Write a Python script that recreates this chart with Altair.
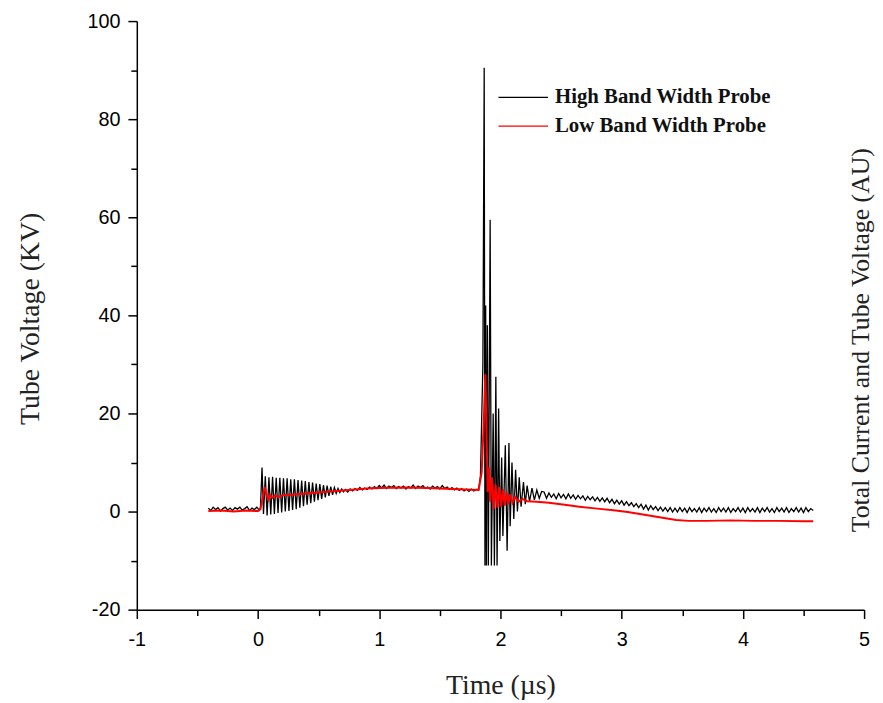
import altair as alt
import pandas as pd

# ---------------- data, [time µs, value kV] ----------------
high_pretrigger = [
    [-0.41, 0.7], [-0.39, 0.2], [-0.37, 0.9], [-0.35, 0.4], [-0.33, 0.8], [-0.31, 0.1],
    [-0.29, 0.6], [-0.27, 0.9], [-0.25, 0.3], [-0.23, 0.7], [-0.21, 0.2], [-0.19, 0.8],
    [-0.17, 0.5], [-0.15, 0.9], [-0.13, 0.3], [-0.11, 0.6], [-0.09, 1.0], [-0.07, 0.2],
    [-0.05, 0.7], [-0.03, 0.4], [-0.01, 0.9], [0.01, 0.3], [0.02, 0.8],
]
high_ringing = [
    [0.033, 9.0], [0.045, -0.5], [0.06, 7.2], [0.075, -0.8], [0.09, 7.0], [0.105, -0.6],
    [0.12, 7.1], [0.135, -0.5], [0.15, 6.9], [0.165, -0.3], [0.18, 6.9], [0.195, -0.2],
    [0.21, 6.8], [0.225, 0.0], [0.24, 6.8], [0.255, 0.1], [0.27, 6.6], [0.285, 0.3],
    [0.30, 6.6], [0.315, 0.5], [0.33, 6.4], [0.345, 0.8], [0.36, 6.3], [0.375, 1.1],
    [0.39, 6.2], [0.405, 1.4], [0.42, 6.0], [0.435, 1.7], [0.45, 5.9], [0.465, 2.0],
    [0.48, 5.7], [0.495, 2.3], [0.51, 5.6], [0.525, 2.6], [0.54, 5.4], [0.555, 2.9],
    [0.57, 5.3], [0.585, 3.2], [0.60, 5.1], [0.615, 3.4], [0.63, 4.9], [0.645, 3.7],
    [0.66, 4.7], [0.675, 3.9], [0.69, 4.6], [0.705, 4.0], [0.72, 4.5],
]
high_plateau = [
    [0.74, 4.0], [0.76, 4.6], [0.78, 4.2], [0.80, 4.7], [0.82, 4.3], [0.84, 4.9],
    [0.86, 4.4], [0.88, 4.8], [0.90, 4.5], [0.92, 5.0], [0.94, 4.6], [0.96, 5.1],
    [0.98, 4.7], [1.00, 5.3], [1.02, 4.8], [1.04, 5.4], [1.06, 4.7], [1.08, 5.2],
    [1.10, 4.9], [1.12, 5.3], [1.14, 4.7], [1.16, 5.1], [1.18, 4.8], [1.20, 5.2],
    [1.22, 4.6], [1.24, 5.1], [1.26, 4.8], [1.28, 5.4], [1.30, 4.7], [1.32, 5.2],
    [1.34, 4.9], [1.36, 5.3], [1.38, 4.7], [1.40, 5.0], [1.42, 4.6], [1.44, 5.2],
    [1.46, 4.8], [1.48, 5.1], [1.50, 4.6], [1.52, 5.3], [1.54, 4.7], [1.56, 5.0],
    [1.58, 4.5], [1.60, 4.9], [1.62, 4.4], [1.64, 4.8], [1.66, 4.3], [1.68, 4.7],
    [1.70, 4.2], [1.72, 4.6], [1.74, 4.1], [1.76, 4.6], [1.78, 4.2], [1.80, 4.5],
]
high_spike = [
    [1.82, 4.5], [1.835, 7.3], [1.855, 30.0], [1.866, 90.5], [1.872, -11.0], [1.878, 42.0],
    [1.884, -11.0], [1.892, 38.0], [1.90, -11.0], [1.915, 59.5], [1.925, -11.0], [1.94, 20.0],
    [1.95, -11.0], [1.962, 27.5], [1.972, -11.0], [1.985, 21.0], [1.995, -6.0], [2.01, 11.0],
    [2.02, -5.0], [2.04, 13.5], [2.055, -8.0], [2.07, 14.0], [2.08, -3.0], [2.095, 10.0],
    [2.11, -1.5], [2.125, 8.5], [2.14, 0.0], [2.155, 7.0], [2.17, 1.0], [2.19, 6.0],
    [2.205, 1.5], [2.22, 5.3], [2.24, 2.0], [2.26, 4.8], [2.28, 2.4], [2.30, 4.4],
    [2.32, 2.7], [2.34, 4.1],
]
high_tail = [
    [2.36, 4.0], [2.38, 2.7], [2.40, 3.8], [2.42, 2.9], [2.44, 3.6], [2.46, 2.6],
    [2.48, 3.7], [2.50, 2.8], [2.52, 3.5], [2.54, 2.6], [2.56, 3.6], [2.58, 2.7],
    [2.60, 3.4], [2.62, 2.5], [2.64, 3.3], [2.66, 2.6], [2.68, 3.2], [2.70, 2.3],
    [2.72, 3.1], [2.74, 2.4], [2.76, 3.0], [2.78, 2.2], [2.80, 2.9], [2.82, 2.1],
    [2.84, 2.8], [2.86, 2.0], [2.88, 2.7], [2.90, 1.8], [2.92, 2.5], [2.94, 1.6],
    [2.96, 2.3], [2.98, 1.5], [3.00, 2.2], [3.02, 1.3], [3.04, 2.0], [3.06, 1.2],
    [3.08, 1.8], [3.10, 1.0], [3.12, 1.6], [3.14, 0.8], [3.16, 1.5], [3.18, 0.5],
    [3.20, 1.3], [3.22, 0.3], [3.24, 1.2], [3.26, 0.4], [3.28, 1.0], [3.30, 0.2],
    [3.32, 0.9], [3.34, 0.1], [3.36, 0.8], [3.38, 0.0], [3.40, 0.8], [3.42, -0.1],
    [3.44, 0.7], [3.46, -0.1], [3.48, 0.8], [3.50, 0.0], [3.52, 0.7], [3.54, -0.2],
    [3.56, 0.8], [3.58, 0.0], [3.60, 0.6], [3.62, -0.1], [3.64, 0.8], [3.66, -0.2],
    [3.68, 0.7], [3.70, 0.0], [3.72, 0.8], [3.74, -0.1], [3.76, 0.6], [3.78, -0.2],
    [3.80, 0.8], [3.82, 0.0], [3.84, 0.7], [3.86, -0.1], [3.88, 0.8], [3.90, -0.2],
    [3.92, 0.6], [3.94, 0.0], [3.96, 0.8], [3.98, -0.1], [4.00, 0.7], [4.02, -0.2],
    [4.04, 0.8], [4.06, 0.0], [4.08, 0.6], [4.10, -0.1], [4.12, 0.8], [4.14, -0.2],
    [4.16, 0.7], [4.18, 0.0], [4.20, 0.8], [4.22, -0.1], [4.24, 0.6], [4.26, -0.2],
    [4.28, 0.8], [4.30, 0.0], [4.32, 0.7], [4.34, -0.1], [4.36, 0.8], [4.38, -0.2],
    [4.40, 0.6], [4.42, 0.0], [4.44, 0.8], [4.46, -0.1], [4.48, 0.7], [4.50, -0.2],
    [4.52, 0.8], [4.54, 0.0], [4.56, 0.6], [4.58, 0.2],
]

low_pre_and_rise = [
    [-0.41, 0.1], [-0.30, 0.2], [-0.2, 0.0], [-0.10, 0.2], [0.0, 0.1], [0.02, 0.5],
    [0.04, 3.0], [0.055, 5.0], [0.07, 3.5], [0.085, 2.4], [0.10, 3.4], [0.12, 2.8],
    [0.14, 3.3], [0.17, 3.0], [0.20, 3.3], [0.30, 3.5], [0.40, 3.7], [0.50, 3.9],
    [0.60, 4.1], [0.70, 4.3], [0.80, 4.5], [0.90, 4.7], [1.00, 4.8], [1.20, 4.9],
    [1.40, 4.8], [1.60, 4.6], [1.82, 4.4],
]
low_spike = [
    [1.845, 8.0], [1.862, 18.0], [1.875, 28.0], [1.885, 16.0], [1.895, 4.0], [1.905, 9.0],
    [1.915, 2.0], [1.93, 7.0], [1.945, 0.5], [1.96, 5.5], [1.975, 0.8], [1.99, 5.0],
    [2.005, 1.0], [2.02, 4.5], [2.035, 1.2], [2.05, 4.0], [2.065, 1.5], [2.08, 3.5],
    [2.10, 1.8], [2.12, 3.0], [2.15, 2.0], [2.18, 2.6], [2.22, 2.1],
]
low_tail = [
    [2.30, 2.0], [2.40, 1.8], [2.53, 1.4], [2.65, 1.0], [2.80, 0.6], [2.95, 0.2],
    [3.05, -0.1], [3.15, -0.5], [3.25, -0.9], [3.35, -1.3], [3.45, -1.7], [3.55, -1.9],
    [3.70, -1.9], [3.90, -1.8], [4.10, -1.9], [4.30, -1.9], [4.50, -2.0], [4.58, -2.0],
]

series_names = ["High Band Width Probe", "Low Band Width Probe"]
series_colors = ["#000000", "#ff0000"]

x_title = "Time (µs)"
y_title = "Tube Voltage (KV)"
right_title = "Total Current and Tube Voltage (AU)"

x_ticks = [-1, -0.5, 0, 0.5, 1, 1.5, 2, 2.5, 3, 3.5, 4, 4.5, 5]
y_ticks = [-20, -10, 0, 10, 20, 30, 40, 50, 60, 70, 80, 90, 100]

# ---------------- chart ----------------
high_pts = high_pretrigger + high_ringing + high_plateau + high_spike + high_tail
low_pts = low_pre_and_rise + low_spike + low_tail
df_high = pd.DataFrame(high_pts, columns=["t", "v"])
df_high["o"] = range(len(df_high))
df_low = pd.DataFrame(low_pts, columns=["t", "v"])
df_low["o"] = range(len(df_low))

tick_font = "Liberation Sans"
serif = "Liberation Serif"

x_enc = alt.X(
    "t:Q",
    scale=alt.Scale(domain=[-1, 5], nice=False, zero=False),
    axis=alt.Axis(
        values=x_ticks,
        labelExpr="datum.value % 1 == 0 ? '' + datum.value : ''",
        title=x_title,
        titleFont=serif, titleFontSize=28, titleFontWeight="normal", titleColor="#222",
        titleX=367, titleY=77, titleBaseline="middle", titleAlign="center",
        labelFont=tick_font, labelFontSize=20, labelColor="#000", labelPadding=11,
        tickSize={"condition": {"test": "datum.value % 1 == 0", "value": 9}, "value": 6},
        tickColor="#000", tickWidth=1.5, domainColor="#000", domainWidth=1.5,
        grid=False, labelFlush=False,
    ),
)
y_enc = alt.Y(
    "v:Q",
    scale=alt.Scale(domain=[-20, 100], nice=False, zero=False),
    axis=alt.Axis(
        values=y_ticks,
        labelExpr="datum.value % 20 == 0 ? '' + datum.value : ''",
        title=y_title,
        titleFont=serif, titleFontSize=28, titleFontWeight="normal", titleColor="#222",
        titleX=-107, titleY=300, titleAngle=270, titleBaseline="middle", titleAlign="center",
        labelFont=tick_font, labelFontSize=20, labelColor="#000", labelPadding=8,
        tickSize={"condition": {"test": "datum.value % 20 == 0", "value": 9}, "value": 6},
        tickColor="#000", tickWidth=1.5, domainColor="#000", domainWidth=1.5,
        grid=False, labelFlush=False,
    ),
)

high_line = alt.Chart(df_high).mark_line(color=series_colors[0], strokeWidth=1.3, clip=True).encode(
    x=x_enc, y=y_enc, order="o:Q"
)
low_line = alt.Chart(df_low).mark_line(color=series_colors[1], strokeWidth=2, clip=True).encode(
    x="t:Q", y="v:Q", order="o:Q"
)

one = pd.DataFrame({"k": [0]})
legend_layers = []
for i, (name, col) in enumerate(zip(series_names, series_colors)):
    yy = 77 + 29 * i
    legend_layers.append(
        alt.Chart(one).mark_rule(color=col, strokeWidth=1.2).encode(
            x=alt.value(365), x2=alt.value(415), y=alt.value(yy)
        )
    )
    legend_layers.append(
        alt.Chart(one).mark_text(
            text=name, font=serif, fontSize=21, fontWeight="bold", color="#111",
            align="left", baseline="middle",
        ).encode(x=alt.value(422), y=alt.value(yy))
    )

right_text = alt.Chart(one).mark_text(
    text=right_title, font=serif, fontSize=26, color="#222", angle=270,
    align="center", baseline="middle",
).encode(x=alt.value(731), y=alt.value(322))

chart = alt.layer(high_line, low_line, *legend_layers, right_text).properties(
    width=734, height=594,
    padding={"left": 130, "top": 10, "right": 11, "bottom": 90},
    autosize=alt.AutoSizeParams(type="none"),
    background="white",
).configure_view(stroke=None)

chart.save("out.html", embed_options={"renderer": "svg", "actions": False})
